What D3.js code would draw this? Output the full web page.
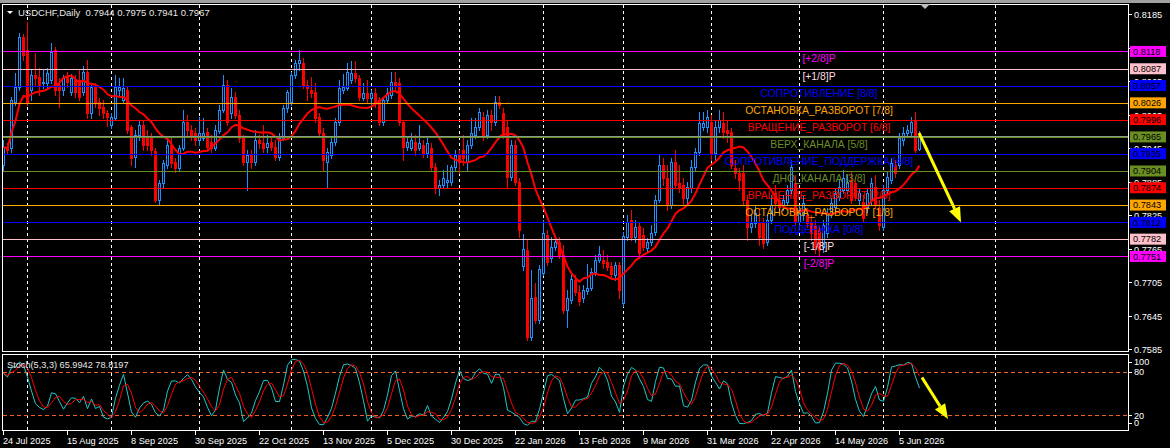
<!DOCTYPE html>
<meta charset="utf-8">
<style>
body { margin: 0; background: #000; }
svg { display: block; }
text { font-family: "Liberation Sans", Arial, sans-serif; }
</style>
<body>
<script src="https://cdn.jsdelivr.net/npm/d3@7"></script>
<script>
// USDCHF daily, prices in 1/10000 (7915 = 0.7915), first bar 24 Jul 2025
const symbol = "USDCHF,Daily";
const openPts = [
  7915,7947,7945,8027,8054,8144,8121,8049,8076,8072, 8061,8061,8067,8121,8058,8049,8072,8045,8067,8067,
  8045,8081,8008,8054,8027,8018,8008,7986,7999,8049, 8031,8049,7983,7929,7968,7986,7965,7965,7940,7852,
  7882,7915,7950,7920,7909,7945,7992,7977,7972,7959, 7963,7974,7956,7945,7976,8013,8058,8008,8036,8004,
  7963,7920,7933,7920,7959,7954,7947,7956,7947,7929, 7963,8017,8027,8076,8097,8097,8058,8049,8045,8001,
  7972,7920,7933,7956,7992,8049,8052,8067,8079,8070, 8035,8044,8035,8044,8031,7992,8031,8040,8063,8061,
  7992,7947,7945,7956,7945,7950,7936,7945,7911,7873, 7879,7884,7884,7911,7933,7942,7920,7950,7968,7983,
  8001,7968,8004,7992,8027,8008,7983,7893,7950,7884, 7734,7762,7607,7678,7637,7721,7789,7748,7768,7777,
  7753,7655,7673,7709,7687,7677,7689,7695,7723,7745, 7745,7741,7734,7718,7736,7668,7786,7816,7786,7805,
  7789,7766,7777,7795,7852,7915,7891,7843,7920,7882, 7879,7856,7873,7911,7938,7983,7983,7992,7936,7983,
  7990,7977,7974,7909,7900,7900,7852,7804,7811,7813, 7811,7777,7816,7865,7852,7843,7848,7870,7882,7813,
  7825,7825,7813,7807,7798,7768,7793,7829,7839,7857, 7870,7870,7888,7882,7852,7848,7839,7852,7875,7838,
  7804,7870,7888,7915,7915,7959,7972,7974,7994,7944
];
const highPts = [
  7959,7954,8036,8079,8151,8149,8171,8085,8115,8088, 8085,8088,8133,8126,8070,8076,8081,8078,8076,8085,
  8092,8103,8058,8061,8035,8031,8013,8008,8076,8070, 8070,8054,7986,7977,7995,7995,7977,7972,7945,7888,
  7924,7959,7963,7927,7950,8013,8004,7986,7981,8001, 7999,7981,7968,7986,8022,8076,8067,8052,8045,8013,
  7968,7942,7942,7977,7968,7986,7968,7963,7959,7972, 8022,8049,8081,8103,8121,8106,8067,8072,8061,8008,
  7981,7945,7963,7999,8067,8078,8097,8101,8101,8076, 8061,8067,8049,8052,8036,8035,8052,8081,8081,8070,
  7995,7963,7972,7968,7986,7959,7963,7954,7918,7888, 7906,7915,7915,7942,7942,7968,7959,7999,7999,8017,
  8010,8013,8013,8038,8038,8017,7995,7959,7959,7891, 7791,7780,7727,7704,7736,7816,7798,7786,7789,7786,
  7771,7691,7723,7718,7700,7700,7737,7730,7753,7770, 7762,7753,7741,7741,7741,7795,7825,7834,7816,7813,
  7802,7784,7807,7861,7933,7927,7915,7927,7942,7915, 7891,7884,7924,7945,8010,8010,8013,8004,7995,8013,
  8010,7995,7981,7924,7909,7915,7861,7825,7843,7834, 7820,7825,7861,7879,7861,7861,7879,7924,7897,7843,
  7861,7838,7825,7816,7807,7816,7838,7856,7873,7888, 7906,7897,7902,7893,7873,7861,7873,7891,7897,7852,
  7879,7902,7927,7924,7972,7983,7986,8001,8010,7975
];
const lowPts = [
  7906,7936,7938,8022,8049,8103,8022,8031,8058,8040, 8052,8052,8061,8040,8018,8040,8054,8040,8036,8031,
  8040,7999,7999,8018,8004,7999,7985,7981,7995,8040, 8026,7972,7915,7911,7959,7942,7942,7933,7848,7843,
  7875,7909,7911,7902,7906,7942,7968,7959,7950,7950, 7959,7942,7938,7942,7972,8010,7986,7999,7999,7956,
  7915,7870,7909,7915,7945,7938,7938,7942,7924,7924, 7959,8010,8022,8070,8085,8052,8031,8036,7992,7965,
  7906,7875,7927,7950,7986,8044,8049,8061,8063,8031, 8031,8027,8022,8018,7986,7986,8027,8035,8049,7986,
  7924,7942,7942,7933,7942,7929,7929,7906,7865,7861, 7873,7875,7879,7906,7900,7915,7906,7945,7963,7977,
  7959,7963,7977,7986,8017,7963,7875,7888,7879,7786, 7727,7601,7601,7632,7632,7718,7736,7741,7762,7748,
  7650,7625,7668,7682,7664,7670,7684,7691,7718,7741, 7730,7727,7712,7709,7677,7662,7780,7780,7777,7748,
  7762,7759,7771,7789,7848,7879,7834,7838,7873,7866, 7843,7847,7866,7906,7933,7977,7974,7924,7924,7974,
  7963,7956,7909,7891,7870,7843,7780,7795,7804,7771, 7766,7771,7811,7838,7829,7834,7843,7865,7807,7802,
  7816,7804,7780,7757,7753,7759,7786,7822,7834,7852, 7865,7865,7847,7852,7843,7813,7831,7843,7838,7798,
  7798,7865,7882,7893,7909,7950,7965,7968,7938,7941
];
const closePts = [
  7947,7942,8031,8054,8144,8112,8027,8076,8070,8058, 8063,8079,8117,8049,8049,8070,8063,8070,8045,8036,
  8081,8008,8054,8027,8017,8008,8001,8001,8054,8054, 8052,7977,7927,7968,7986,7950,7950,7942,7852,7882,
  7918,7950,7918,7909,7945,7992,7977,7968,7959,7972, 7972,7947,7945,7977,8013,8058,7992,8036,8004,7963,
  7920,7933,7920,7959,7954,7945,7954,7947,7929,7963, 8017,8045,8076,8097,8103,8058,8052,8044,7999,7972,
  7924,7938,7956,7992,8052,8054,8081,8079,8070,8036, 8044,8035,8044,8026,7992,8031,8044,8063,8058,7992,
  7947,7956,7959,7942,7954,7936,7954,7911,7873,7879, 7891,7888,7911,7933,7920,7927,7950,7972,7983,8010,
  7968,8004,7992,8027,8022,7968,7893,7950,7884,7798, 7764,7607,7677,7637,7729,7793,7741,7768,7777,7753,
  7655,7677,7711,7687,7671,7691,7695,7723,7745,7755, 7739,7732,7720,7736,7691,7788,7813,7786,7804,7757,
  7768,7777,7793,7852,7915,7891,7843,7920,7879,7875, 7856,7875,7911,7938,7990,7990,8001,7936,7983,7995,
  7974,7972,7915,7900,7888,7852,7804,7811,7829,7786, 7775,7816,7843,7847,7839,7852,7870,7911,7813,7834,
  7847,7811,7793,7768,7762,7807,7829,7847,7865,7875, 7891,7884,7852,7857,7865,7820,7865,7882,7843,7807,
  7870,7893,7918,7900,7963,7972,7977,7992,7942,7967
];

// Murrey Math levels
const levelPrices = [0.8118, 0.8087, 0.8057, 0.8026, 0.7996, 0.7965, 0.7935, 0.7904, 0.7874, 0.7843, 0.7812, 0.7782, 0.7751];
const levelNames = ["[+2/8]P", "[+1/8]P", "СОПРОТИВЛЕНИЕ [8/8]", "ОСТАНОВКА_РАЗВОРОТ [7/8]", "ВРАЩЕНИЕ_РАЗВОРОТ [6/8]",
  "ВЕРХ_КАНАЛА [5/8]", "СОПРОТИВЛЕНИЕ_ПОДДЕРЖКА [4/8]", "ДНО_КАНАЛА [3/8]", "ВРАЩЕНИЕ_РАЗВОРОТ [2/8]",
  "ОСТАНОВКА_РАЗВОРОТ [1/8]", "ПОДДЕРЖКА [0/8]", "[-1/8]P", "[-2/8]P"];
const levelColors = ["#ff00ff", "#ffc0cb", "#0000ff", "#ffa500", "#ff0000", "#6b8e23", "#0000ff",
  "#6b8e23", "#ff0000", "#ffa500", "#0000ff", "#ffc0cb", "#ff00ff"];

const priceTicks = ["0.8185", "0.8125", "0.8065", "0.8005", "0.7945", "0.7885", "0.7825", "0.7765", "0.7705", "0.7645", "0.7585"];
const stochTicks = [100, 80, 20, 0];
const stochLevels = [80, 20];
const stochReadout = [65.9942, 78.8197];
const holidays = ["2025-12-25", "2026-01-01"];
const maPeriod = 14;

// arrows, in bar index / price units
const priceArrow = { from: [229, 0.7972], to: [239.5, 0.7812] };
const stochArrow = { from: [229.75, 72], to: [236.25, 15] };

const width = 1170, height = 448;
const n = closePts.length;
const O = openPts.map(v => v / 1e4), H = highPts.map(v => v / 1e4),
      L = lowPts.map(v => v / 1e4), C = closePts.map(v => v / 1e4);

// trading dates (weekdays minus holidays), future bars one calendar day each
const fmtKey = d3.timeFormat("%Y-%m-%d");
const dates = [];
let d = new Date(2025, 6, 24);
while (dates.length < n) {
  if (d.getDay() !== 0 && d.getDay() !== 6 && !holidays.includes(fmtKey(d))) dates.push(d);
  d = d3.timeDay.offset(d, 1);
}
for (let k = n; k < 262; k++) dates.push(d3.timeDay.offset(dates[n - 1], k - n + 1));

const x = d3.scaleLinear().domain([0, 281.25]).range([3, 1128]);
const y = d3.scaleLinear().domain([0.7585, 0.8185]).range([349.2, 14]);
const yS = d3.scaleLinear().domain([0, 100]).range([430, 357]);

const svg = d3.select("body").append("svg").attr("width", width).attr("height", height);
svg.append("rect").attr("width", width).attr("height", height).attr("fill", "#000");
svg.append("rect").attr("width", width).attr("height", 3).attr("fill", "#a0a0a0");

const main = svg.append("g");
main.append("clipPath").attr("id", "clipMain").append("rect").attr("x", 3).attr("y", 5).attr("width", 1125).attr("height", 346);
main.append("clipPath").attr("id", "clipStoch").append("rect").attr("x", 3).attr("y", 355).attr("width", 1125).attr("height", 75);

// month grid
const monthIdx = d3.range(1, dates.length).filter(i => dates[i].getMonth() !== dates[i - 1].getMonth());
const grid = main.append("g").attr("stroke", "#fff").attr("stroke-dasharray", "3,3");
monthIdx.forEach(i => {
  const gx = Math.round(x(i)) + 0.5;
  grid.append("line").attr("x1", gx).attr("x2", gx).attr("y1", 5).attr("y2", 351);
  grid.append("line").attr("x1", gx).attr("x2", gx).attr("y1", 355).attr("y2", 430);
});

// candles
const candles = main.append("g").attr("clip-path", "url(#clipMain)");
d3.range(n).forEach(i => {
  const cx = Math.round(x(i));
  const up = C[i] >= O[i];
  const col = up ? "#1e90ff" : "#ff0000";
  candles.append("line").attr("x1", cx + 0.5).attr("x2", cx + 0.5)
    .attr("y1", Math.round(y(H[i]))).attr("y2", Math.round(y(L[i])) + 1).attr("stroke", col);
  const top = Math.round(y(Math.max(O[i], C[i]))), bot = Math.round(y(Math.min(O[i], C[i])));
  if (up) {
    candles.append("rect").attr("x", cx - 0.5).attr("y", top + 0.5).attr("width", 2)
      .attr("height", Math.max(0, bot - top)).attr("fill", "#000").attr("stroke", col);
  } else {
    candles.append("rect").attr("x", cx - 1).attr("y", top).attr("width", 3)
      .attr("height", Math.max(1, bot - top + 1)).attr("fill", col);
  }
});

// moving average
const ma = d3.range(n).map(i => d3.mean(C.slice(Math.max(0, i - maPeriod + 1), i + 1)));
main.append("path").datum(ma).attr("clip-path", "url(#clipMain)")
  .attr("fill", "none").attr("stroke", "#ff0000").attr("stroke-width", 2)
  .attr("d", d3.line().x((v, i) => x(i) + 0.5).y(v => y(v)));

// levels
levelPrices.forEach((p, k) => {
  const ly = Math.round(y(p)) + 0.5;
  main.append("line").attr("x1", 3).attr("x2", 1128).attr("y1", ly).attr("y2", ly).attr("stroke", levelColors[k]);
});
// bid line
const bidY = Math.round(y(C[n - 1])) + 0.5;
main.append("line").attr("x1", 3).attr("x2", 1128).attr("y1", bidY).attr("y2", bidY).attr("stroke", "#8a9a8a");

levelPrices.forEach((p, k) => {
  main.append("text").attr("x", x(204)).attr("y", y(p) + 11).attr("text-anchor", "middle")
    .attr("font-size", "10.4px").attr("fill", k === 1 || k === 11 ? "#ffdde2" : levelColors[k])
    .text(levelNames[k]);
});

// arrows
function arrow(g, x1, y1, x2, y2) {
  const ang = Math.atan2(y2 - y1, x2 - x1), len = 15, hw = 6;
  const bx = x2 - len * Math.cos(ang), by = y2 - len * Math.sin(ang);
  g.append("line").attr("x1", x1).attr("y1", y1).attr("x2", bx).attr("y2", by)
    .attr("stroke", "#ffff00").attr("stroke-width", 3);
  const px = -Math.sin(ang) * hw, py = Math.cos(ang) * hw;
  g.append("path").attr("fill", "#ffff00")
    .attr("d", `M${x2},${y2}L${bx + px},${by + py}L${bx - px},${by - py}Z`);
}
arrow(main, x(priceArrow.from[0]), y(priceArrow.from[1]), x(priceArrow.to[0]), y(priceArrow.to[1]));

// stochastic (5,3,3)
function stoch(kP, dP, sP) {
  const m = d3.range(n).map(i => {
    let num = 0, den = 0;
    for (let j = Math.max(0, i - sP + 1); j <= i; j++) {
      const lo = d3.min(L.slice(Math.max(0, j - kP + 1), j + 1));
      const hi = d3.max(H.slice(Math.max(0, j - kP + 1), j + 1));
      num += C[j] - lo; den += hi - lo;
    }
    return den ? 100 * num / den : 50;
  });
  const s = m.map((v, i) => d3.mean(m.slice(Math.max(0, i - dP + 1), i + 1)));
  return [m, s];
}
const [kLine, dLine] = stoch(5, 3, 3);
const sg = main.append("g").attr("clip-path", "url(#clipStoch)");
stochLevels.forEach(v => {
  sg.append("line").attr("x1", 3).attr("x2", 1128).attr("y1", Math.round(yS(v)) + 0.5).attr("y2", Math.round(yS(v)) + 0.5)
    .attr("stroke", "#f0601c").attr("stroke-dasharray", "4,3");
});
const sLine = d3.line().x((v, i) => x(i) + 0.5).y(v => yS(v));
sg.append("path").datum(kLine).attr("fill", "none").attr("stroke", "#20c8c8").attr("d", sLine);
sg.append("path").datum(dLine).attr("fill", "none").attr("stroke", "#ff0000").attr("d", sLine);
arrow(main, x(stochArrow.from[0]), yS(stochArrow.from[1]), x(stochArrow.to[0]), yS(stochArrow.to[1]));

// frames
const fr = svg.append("g").attr("fill", "none").attr("stroke", "#fff");
fr.append("rect").attr("x", 2.5).attr("y", 4.5).attr("width", 1126).attr("height", 347);
fr.append("rect").attr("x", 2.5).attr("y", 354.5).attr("width", 1126).attr("height", 76);

// chart shift marker
svg.append("path").attr("fill", "#c0c0c0").attr("d", `M${x(230.5) - 5},4L${x(230.5) + 5},4L${x(230.5)},9Z`);

// header
svg.append("path").attr("fill", "#fff").attr("d", "M7,11L13,11L10,14Z");
svg.append("text").attr("x", 18).attr("y", 16).attr("font-size", "9.5px").attr("fill", "#e8e8e8")
  .style("white-space", "pre")
  .text(`${symbol}  ${[O, H, L, C].map(a => a[n - 1].toFixed(4)).join(" ")}`);
svg.append("text").attr("x", 7).attr("y", 368).attr("font-size", "9.2px").attr("fill", "#e8e8e8")
  .text(`Stoch(5,3,3) ${stochReadout[0].toFixed(4)} ${stochReadout[1].toFixed(4)}`);

// price axis
const ax = svg.append("g").attr("font-size", "9.2px").attr("fill", "#fff");
priceTicks.forEach(t => {
  const ty = Math.round(y(+t)) + 0.5;
  ax.append("line").attr("x1", 1128).attr("x2", 1132).attr("y1", ty).attr("y2", ty).attr("stroke", "#fff");
  ax.append("text").attr("x", 1134).attr("y", ty + 3.3).text(t);
});
levelPrices.forEach((p, k) => {
  const ty = y(p);
  ax.append("rect").attr("x", 1130).attr("y", ty - 5.5).attr("width", 36).attr("height", 11).attr("fill", levelColors[k]);
  ax.append("text").attr("x", 1133).attr("y", ty + 3.3).attr("fill", "#000").text(p.toFixed(4));
});
stochTicks.forEach(v => {
  const ty = Math.min(Math.max(yS(v), 362), 423);
  ax.append("line").attr("x1", 1128).attr("x2", 1132).attr("y1", Math.round(ty) + 0.5).attr("y2", Math.round(ty) + 0.5).attr("stroke", "#fff");
  ax.append("text").attr("x", 1134).attr("y", ty + 3.3).text(v);
});

// time axis
const fmt = d3.timeFormat("%-d %b %Y");
d3.range(0, n, 16).forEach(i => {
  const tx = Math.round(x(i)) + 0.5;
  ax.append("line").attr("x1", tx).attr("x2", tx).attr("y1", 431).attr("y2", 435).attr("stroke", "#fff");
  ax.append("text").attr("x", tx - 0.5).attr("y", 444).text(fmt(dates[i]));
});
</script>
</body>
